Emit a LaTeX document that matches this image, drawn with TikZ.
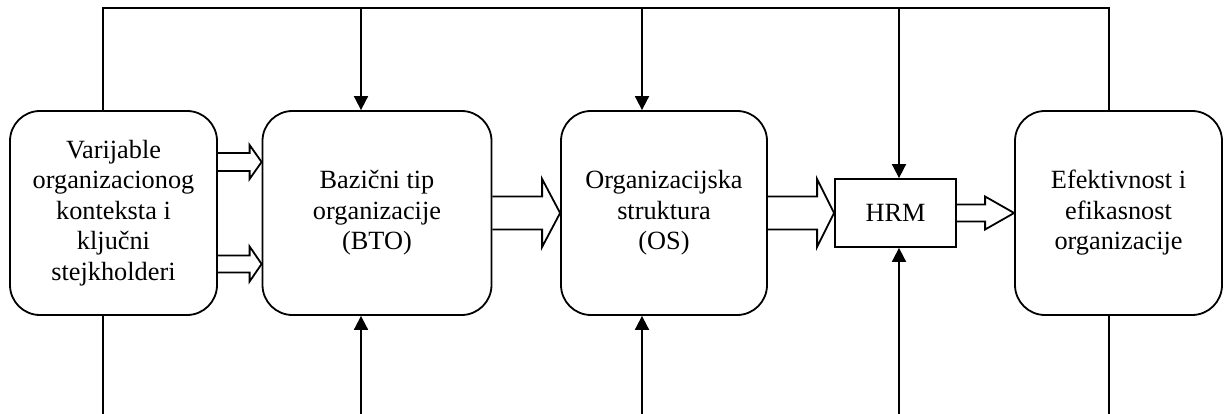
\documentclass[tikz,border=0pt]{standalone}
\usepackage{fontspec}
\setmainfont{Liberation Serif}
\usepackage{tikz}
\usetikzlibrary{arrows.meta,calc}

% hollow block arrow from the east side of #1 to the west side of #2
% #3 = vertical offset, #4 = half shaft, #5 = half head, #6 = head length
\newcommand{\fatarrow}[6]{%
  \draw ($(#1.east)+(0,#3-#4)$) -- ($(#2.west)+(-#6,#3-#4)$)
     -- ($(#2.west)+(-#6,#3-#5)$) -- ($(#2.west)+(0,#3)$)
     -- ($(#2.west)+(-#6,#3+#5)$) -- ($(#2.west)+(-#6,#3+#4)$)
     -- ($(#1.east)+(0,#3+#4)$);}

\begin{document}
\begin{tikzpicture}[x=1pt,y=-1pt,line width=1.8pt,>={Triangle[length=14pt,width=14pt]}]
 \tikzstyle{stage}=[draw,rounded corners=30pt,minimum height=204pt,align=center,
   inner sep=0pt,font=\fontsize{26.3}{30.5}\selectfont]
 \tikzstyle{hrmbox}=[draw,minimum width=121pt,minimum height=68pt,
   inner sep=0pt,font=\fontsize{26.3}{30.5}\selectfont]

 \useasboundingbox (0,0) rectangle (1228,414);

   \node[stage,minimum width=207pt] (var) at (113.5,213) {Varijable\\organizacionog\\konteksta i\\ključni\\stejkholderi};
   \node[stage,minimum width=229pt] (bto) at (377,213) {Bazični tip\\organizacije\\(BTO)};
   \node[stage,minimum width=206pt] (os) at (664,213) {Organizacijska\\struktura\\(OS)};
   \node[hrmbox] (hrm) at (895.5,213) {HRM};
   \node[stage,minimum width=207pt] (eff) at (1118.5,213) {Efektivnost i\\efikasnost\\organizacije};

   % top and bottom lines
   \coordinate (top) at (0,8);
   \coordinate (bot) at (0,414);
   \coordinate (x1) at (103,0);
   \coordinate (x2) at (361,0);
   \coordinate (x3) at (642,0);
   \coordinate (x4) at (899,0);
   \coordinate (x5) at (1109,0);

   \draw (x1 |- var.north) -- (x1 |- top) -- (x5 |- top) -- (x5 |- eff.north);
   \draw[->] (x2 |- top) -- (x2 |- bto.north);
   \draw[->] (x3 |- top) -- (x3 |- os.north);
   \draw[->] (x4 |- top) -- (x4 |- hrm.north);

   \draw (x1 |- var.south) -- (x1 |- bot);
   \draw[->] (x2 |- bot) -- (x2 |- bto.south);
   \draw[->] (x3 |- bot) -- (x3 |- os.south);
   \draw[->] (x4 |- bot) -- (x4 |- hrm.south);
   \draw (x5 |- eff.south) -- (x5 |- bot);

   % block arrows
   \fatarrow{var}{bto}{-51}{9}{17}{12}
   \fatarrow{var}{bto}{51}{8.5}{17.5}{12}
   \fatarrow{bto}{os}{0}{16.5}{34}{18}
   \fatarrow{os}{hrm}{0}{16.5}{34}{17}
   \fatarrow{hrm}{eff}{0}{8.5}{16.5}{29}

\end{tikzpicture}
\end{document}
